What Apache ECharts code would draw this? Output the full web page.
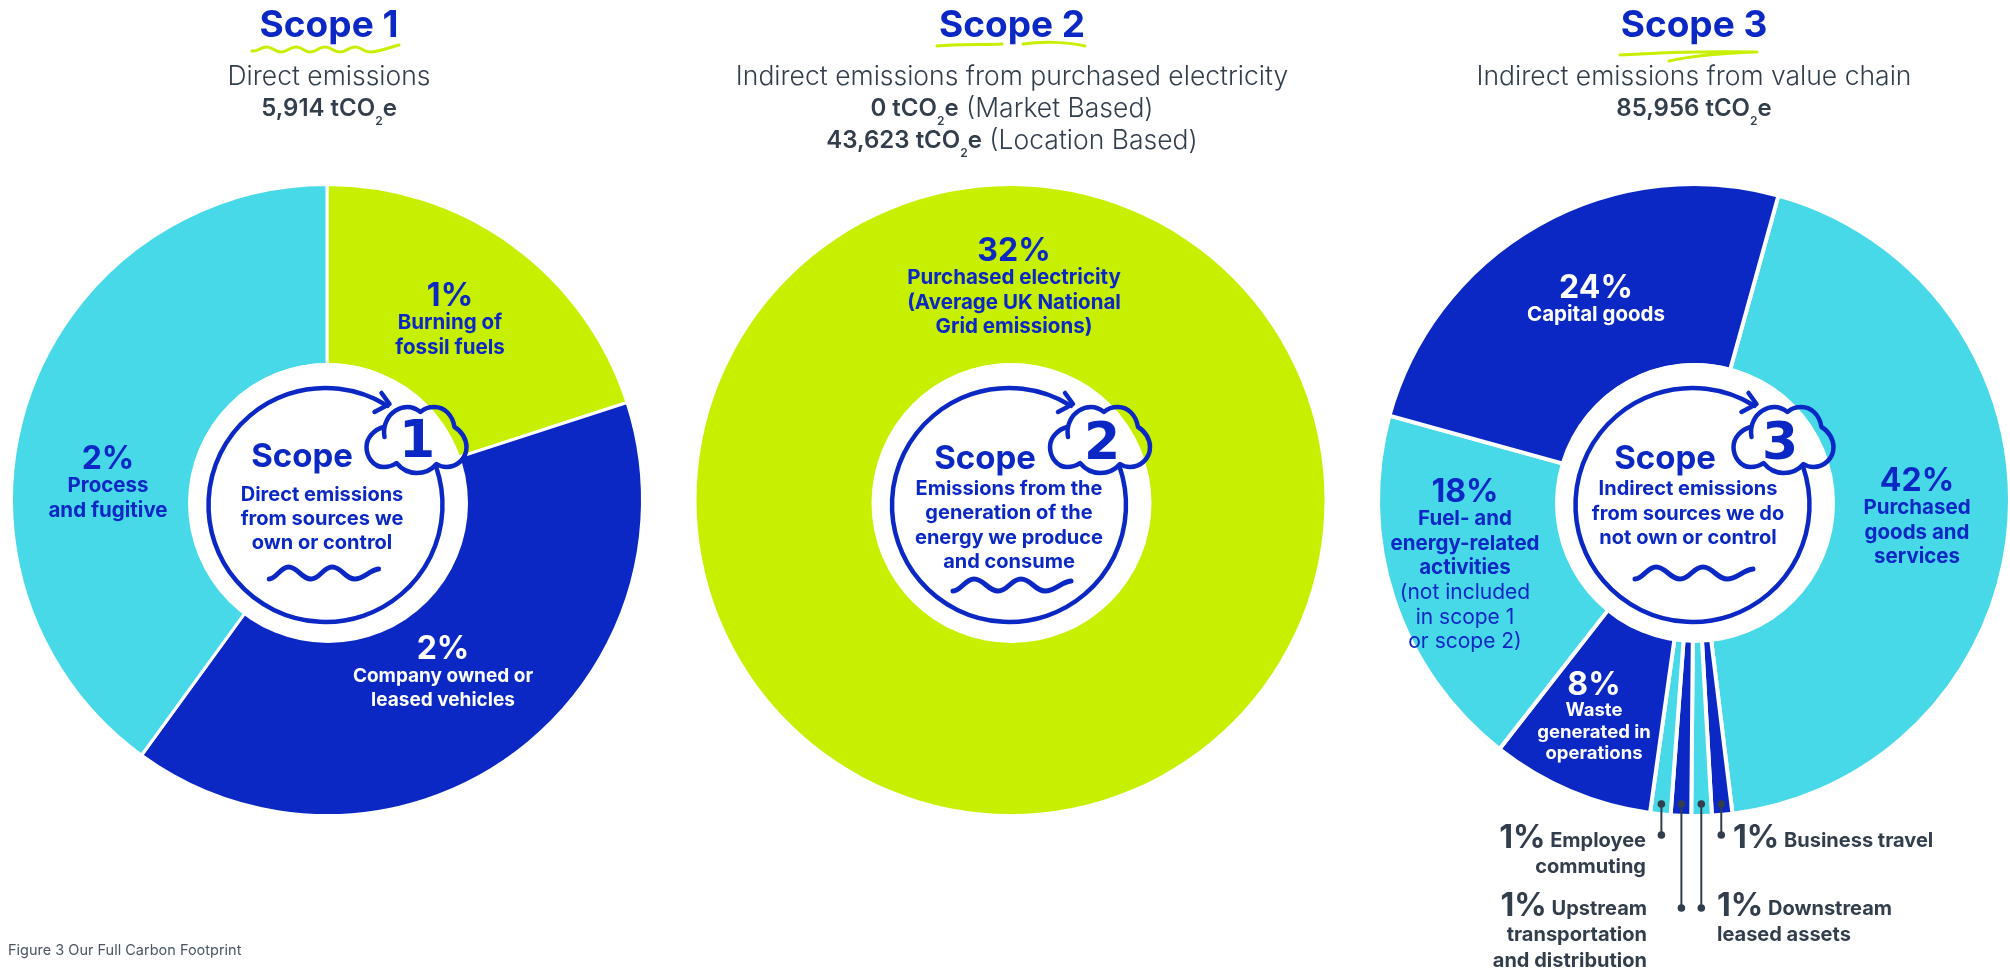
<!DOCTYPE html>
<html>
<head>
<meta charset="utf-8">
<title>Our Full Carbon Footprint</title>
<style>
  html, body { margin: 0; padding: 0; background: #fff; }
  #chart { width: 2010px; height: 970px; }
</style>
<script src="https://cdn.jsdelivr.net/npm/echarts@6/dist/echarts.min.js"></script>
</head>
<body>
<div id="chart"></div>
<script>
// Emission shares per scope, in percent
const scope1Categories = ['Burning of\nfossil fuels', 'Company owned or\nleased vehicles', 'Process\nand fugitive'];
const scope1Values = [1, 2, 2];
const scope2Categories = ['Purchased electricity\n(Average UK National\nGrid emissions)'];
const scope2Values = [32];
const scope3Categories = [
  'Purchased\ngoods and\nservices', 'Business travel', 'Downstream\nleased assets',
  'Upstream\ntransportation\nand distribution', 'Employee\ncommuting',
  'Waste\ngenerated in\noperations', 'Fuel- and\nenergy-related\nactivities',
  'Capital goods'
];
const scope3Values = [42, 1, 1, 1, 1, 8, 18, 24];
const scope3Notes = { 6: '(not included\nin scope 1\nor scope 2)' };

const scopeTitles = ['Scope 1', 'Scope 2', 'Scope 3'];
const scopeSubtitles = [
  ['{l|Direct emissions}', '{b|5,914 tCO}{s|2}{b|e}'],
  ['{l|Indirect emissions from purchased electricity}', '{b|0 tCO}{s|2}{b|e}{l| (Market Based)}', '{b|43,623 tCO}{s|2}{b|e}{l| (Location Based)}'],
  ['{l|Indirect emissions from value chain}', '{b|85,956 tCO}{s|2}{b|e}']
];
const badgeDescriptions = [
  ['Direct emissions', 'from sources we', 'own or control'],
  ['Emissions from the', 'generation of the', 'energy we produce', 'and consume'],
  ['Indirect emissions', 'from sources we do', 'not own or control']
];
const footnote = 'Figure 3 Our Full Carbon Footprint';

const LIME = '#c6f000', CYAN = '#48d9e8', NAVY = '#0b28c4', SLATE = '#323e4c';
const FONT = 'Inter';
const OUTER = 314, INNER = 137;
const CENTERS = [[327, 500], [1010.5, 500], [1694, 500]];

function richSet(color, size, lineHeight) {
  const base = { fontFamily: FONT, color: color, align: 'center' };
  return {
    p: { ...base, fontSize: 32, fontWeight: 700, lineHeight: 30 },
    n: { ...base, fontSize: size, fontWeight: 700, lineHeight: lineHeight },
    r: { ...base, fontSize: 21, fontWeight: 400, lineHeight: lineHeight }
  };
}
const slateBase = { fontFamily: FONT, color: SLATE, fontWeight: 700 };
const sideRich = {
  rp: { ...slateBase, fontSize: 32, align: 'right', verticalAlign: 'bottom', lineHeight: 30 },
  rn: { ...slateBase, fontSize: 20, align: 'right', verticalAlign: 'bottom', lineHeight: 26, padding: [0, 0, 3, 0] },
  lp: { ...slateBase, fontSize: 32, align: 'left', verticalAlign: 'bottom', lineHeight: 30 },
  ln: { ...slateBase, fontSize: 20, align: 'left', verticalAlign: 'bottom', lineHeight: 26, padding: [0, 0, 3, 0] }
};

function blockLabel(value, name, color, note, size = 20.5, lineHeight = 24.5) {
  const lines = name.split('\n').map(t => `{n|${t}}`);
  const extra = note ? note.split('\n').map(t => `{r|${t}}`) : [];
  return {
    show: true, position: 'inside',
    formatter: [`{p|${value}%}`, ...lines, ...extra].join('\n'),
    rich: richSet(color, size, lineHeight)
  };
}
function sideLabel(value, name, side) {
  const [first, ...rest] = name.split('\n');
  const tail = rest.map(t => `{${side}n|${t}}`);
  return {
    show: true, position: 'inside',
    formatter: [`{${side}p|${value}%}{${side}n| ${first}}`, ...tail].join('\n'),
    rich: sideRich
  };
}

function pieSeries(index, values, items, layouts, startAngle, gap) {
  return {
    type: 'pie',
    center: CENTERS[index],
    radius: [INNER - gap / 2, OUTER + gap / 2],
    startAngle: startAngle,
    clockwise: true,
    animation: false,
    silent: true,
    emphasis: { disabled: true },
    labelLine: { show: false },
    labelLayout: p => ({ ...layouts[p.dataIndex] }),
    data: values.map((v, i) => ({ value: v, ...items(v, i) }))
  };
}

const scope1Colors = [LIME, NAVY, CYAN];
const scope1Layouts = [
  { x: 450, y: 281, align: 'center', verticalAlign: 'top' },
  { x: 443, y: 634, align: 'center', verticalAlign: 'top' },
  { x: 108, y: 444, align: 'center', verticalAlign: 'top' }
];
const scope3Colors = [CYAN, NAVY, CYAN, NAVY, CYAN, NAVY, CYAN, NAVY];
const scope3Layouts = [
  { x: 1917, y: 466, align: 'center', verticalAlign: 'top' },
  { x: 1733, y: 824, align: 'left', verticalAlign: 'top' },
  { x: 1717, y: 892, align: 'left', verticalAlign: 'top' },
  { x: 1647, y: 892, align: 'right', verticalAlign: 'top' },
  { x: 1646, y: 824, align: 'right', verticalAlign: 'top' },
  { x: 1594, y: 670, align: 'center', verticalAlign: 'top' },
  { x: 1465, y: 477, align: 'center', verticalAlign: 'top' },
  { x: 1596, y: 273, align: 'center', verticalAlign: 'top' }
];
const sideOfSlice = { 1: 'l', 2: 'l', 3: 'r', 4: 'r' };

const series = [
  pieSeries(0, scope1Values, (v, i) => ({
    name: scope1Categories[i],
    itemStyle: { color: scope1Colors[i], borderColor: '#fff', borderWidth: 3 },
    label: i === 1
      ? blockLabel(v, scope1Categories[i], '#fff', null, 19, 24.5)
      : blockLabel(v, scope1Categories[i], NAVY)
  }), scope1Layouts, 90, 3),
  pieSeries(1, scope2Values, (v, i) => ({
    name: scope2Categories[i],
    itemStyle: { color: LIME },
    label: blockLabel(v, scope2Categories[i], NAVY)
  }), [{ x: 1014, y: 236, align: 'center', verticalAlign: 'top' }], 90, 0),
  pieSeries(2, scope3Values, (v, i) => ({
    name: scope3Categories[i],
    itemStyle: { color: scope3Colors[i], borderColor: '#fff', borderWidth: 4 },
    label: sideOfSlice[i]
      ? sideLabel(v, scope3Categories[i], sideOfSlice[i])
      : (i === 5
        ? blockLabel(v, scope3Categories[i], '#fff', null, 18.5, 21.5)
        : blockLabel(v, scope3Categories[i], scope3Colors[i] === NAVY ? '#fff' : NAVY, scope3Notes[i]))
  }), scope3Layouts, 74.5, 4)
];

// Headings above each ring
const titleX = [329, 1012, 1694];
const subtitleRich = {
  l: { fontFamily: FONT, fontWeight: 300, fontSize: 26.5, color: SLATE, lineHeight: 36, align: 'center' },
  b: { fontFamily: FONT, fontWeight: 600, fontSize: 24, color: SLATE, lineHeight: 36, align: 'center' },
  s: { fontFamily: FONT, fontWeight: 600, fontSize: 12, color: SLATE, lineHeight: 36, verticalAlign: 'bottom', align: 'center' }
};
const titles = [];
scopeTitles.forEach((t, i) => {
  titles.push({
    text: t, left: titleX[i], top: 4, textAlign: 'center', padding: 0,
    textStyle: { fontFamily: FONT, fontWeight: 700, fontSize: 37, color: NAVY, lineHeight: 44 }
  });
  scopeSubtitles[i].forEach((line, k) => titles.push({
    text: line, left: titleX[i], top: 59 + k * 32, textAlign: 'center', padding: 0,
    textStyle: { rich: subtitleRich }
  }));
});
titles.push({
  text: footnote, left: 8, top: 943, padding: 0,
  textStyle: { fontFamily: FONT, fontWeight: 400, fontSize: 14.5, color: '#4a5663' }
});

// Hand-drawn flourishes
echarts.graphic.registerShape('cloud', echarts.graphic.extendPath(
  'M18 30 C17 24 17 20 20 14 C24 5 33 0 41 0 C46 0 50 2 54 5 C58 1 63 0 68 0 C78 0 86 8 88 20 C95 24 100 32 100 40 C100 52 90 60 80 60 C76 60 73 59 70 57 C65 63 58 66 50 66 C42 66 35 62 30 56 C26 59 21 60 17 60 C7 60 0 50 0 40 C0 31 7 23 17 20'
));
echarts.graphic.registerShape('wave', echarts.graphic.extendPath(
  'M0 13 C8 13 12 1 21 1 C31 1 35 13 45 13 C55 13 58 1 68 1 C78 1 82 13 92 13 C102 13 108 4 118 3'
));
echarts.graphic.registerShape('ripple', echarts.graphic.extendPath(
  'M0 6 C6 7 8 2 15 2 C21 2 22 7 29 7 C36 7 37 2 44 2 C51 2 52 7 58 7 C65 7 66 2 73 2 C80 2 81 7 88 7 C95 7 96 2 103 2 C110 2 111 7 118 7 C125 7 130 5 147 0'
));
echarts.graphic.registerShape('strokeLeft', echarts.graphic.extendPath('M0 3 C20 1 45 2 65 1'));
echarts.graphic.registerShape('strokeRight', echarts.graphic.extendPath('M0 2 C20 -1 45 0 62 4'));
echarts.graphic.registerShape('swoosh', echarts.graphic.extendPath('M0 3 C45 0 90 -1 137 0 C110 1 75 3 49 9'));

const HOLE_Y = 503, HOLE_R = 140;
const RING_CENTERS = [[325.5, 505], [1009, 505], [1692.5, 505]];
const RING_R = 117;
const badgeLayouts = [
  { scope: [302, 457], text: [322, 495], lh: 24.2, wave: [269, 566], waveScale: 0.93, digit: [417, 443] },
  { scope: [985, 459], text: [1009, 489], lh: 24.3, wave: [953, 578], waveScale: 1, digit: [1102, 445] },
  { scope: [1665, 459], text: [1688, 489], lh: 24.5, wave: [1635, 566], waveScale: 1, digit: [1780, 445] }
];
const digits = ['1', '2', '3'];
const stroke = { fill: null, stroke: NAVY, lineWidth: 4.5, lineCap: 'round', lineJoin: 'round' };
const graphics = [];
RING_CENTERS.forEach(([cx, cy], i) => {
  // White disc sits over the pie's hole, a little below the ring's centre
  graphics.push({
    type: 'circle', z: 3, silent: true,
    shape: { cx: CENTERS[i][0] + 1, cy: HOLE_Y, r: HOLE_R }, style: { fill: '#fff' }
  });
  graphics.push({
    type: 'arc', z: 20, silent: true,
    shape: { cx, cy, r: RING_R, startAngle: -18.8 * Math.PI / 180, endAngle: -58 * Math.PI / 180, clockwise: true },
    style: stroke
  });
  graphics.push({
    type: 'polyline', z: 20, silent: true,
    shape: { points: [[cx + 56, cy - 112], [cx + 64, cy - 101], [cx + 49, cy - 93]] },
    style: stroke
  });
  graphics.push({ type: 'cloud', z: 20, silent: true, x: cx + 41, y: cy - 98, style: stroke });
  const b = badgeLayouts[i];
  graphics.push({
    type: 'text', z: 21, silent: true, x: b.digit[0], y: b.digit[1],
    style: { text: digits[i], fontFamily: 'DejaVu Sans', fontWeight: 700, fontSize: 52, fill: NAVY, align: 'center', verticalAlign: 'middle' }
  });
  graphics.push({
    type: 'text', z: 21, silent: true, x: b.scope[0], y: b.scope[1],
    style: { text: 'Scope', fontFamily: FONT, fontWeight: 700, fontSize: 33, fill: NAVY, align: 'center', verticalAlign: 'middle' }
  });
  badgeDescriptions[i].forEach((t, k) => graphics.push({
    type: 'text', z: 21, silent: true, x: b.text[0], y: b.text[1] + k * b.lh,
    style: { text: t, fontFamily: FONT, fontWeight: 700, fontSize: 20, fill: NAVY, align: 'center', verticalAlign: 'middle' }
  }));
  graphics.push({ type: 'wave', z: 20, silent: true, x: b.wave[0], y: b.wave[1], scaleX: b.waveScale, style: { ...stroke, lineWidth: 5 } });
});

const limeStroke = { fill: null, stroke: LIME, lineWidth: 3, lineCap: 'round', lineJoin: 'round' };
graphics.push({ type: 'ripple', z: 5, silent: true, x: 252, y: 45, style: limeStroke });
graphics.push({ type: 'strokeLeft', z: 5, silent: true, x: 937, y: 43, style: limeStroke });
graphics.push({ type: 'strokeRight', z: 5, silent: true, x: 1023, y: 42, style: limeStroke });
graphics.push({ type: 'swoosh', z: 5, silent: true, x: 1620, y: 52, style: limeStroke });

// Leader lines for the four narrow Scope 3 slices, placed from their mid-angles
const total3 = scope3Values.reduce((a, b) => a + b, 0);
const DOT_Y = 804;
const leaderEnds = { 1: 835, 2: 908, 3: 908, 4: 835 };
let acc = 90 - 74.5;
scope3Values.forEach((v, i) => {
  const sweep = v / total3 * 360;
  const mid = (acc + sweep / 2) * Math.PI / 180;
  acc += sweep;
  if (!leaderEnds[i]) return;
  const x = CENTERS[2][0] + (DOT_Y - CENTERS[2][1]) * Math.tan(Math.PI - mid);
  graphics.push({ type: 'line', z: 22, silent: true, shape: { x1: x, y1: DOT_Y, x2: x, y2: leaderEnds[i] }, style: { stroke: SLATE, lineWidth: 2 } });
  graphics.push({ type: 'circle', z: 22, silent: true, shape: { cx: x, cy: DOT_Y, r: 3.8 }, style: { fill: SLATE } });
  graphics.push({ type: 'circle', z: 22, silent: true, shape: { cx: x, cy: leaderEnds[i], r: 3.8 }, style: { fill: SLATE } });
});

const chart = echarts.init(document.getElementById('chart'), null, { renderer: 'canvas' });
chart.setOption({
  backgroundColor: '#fff',
  animation: false,
  title: titles,
  graphic: { elements: graphics },
  series: series
});
</script>
</body>
</html>
